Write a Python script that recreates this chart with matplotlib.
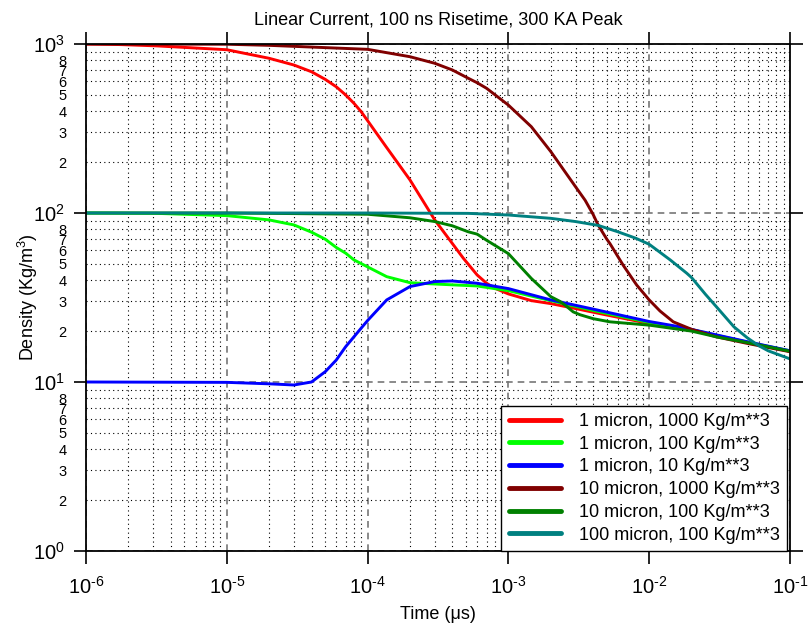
import numpy as np
import matplotlib
matplotlib.use("Agg")
import matplotlib.pyplot as plt
from matplotlib.ticker import LogLocator, FuncFormatter, NullFormatter

plt.rcParams['font.family'] = ['Liberation Sans', 'DejaVu Sans']
plt.rcParams['mathtext.fontset'] = 'custom'
plt.rcParams['mathtext.rm'] = 'Liberation Sans'
plt.rcParams['mathtext.it'] = 'Liberation Sans:italic'
plt.rcParams['axes.unicode_minus'] = False

# curves: log10 of time (us) and density (Kg/m^3)
t_red = [-6, -5.75, -5.5, -5.0, -4.699, -4.523, -4.398, -4.301, -4.222, -4.155, -4.097, -4.046,
         -4.0, -3.869, -3.699, -3.523, -3.398, -3.32, -3.222, -3.155, -3.097, -3.0, -2.837,
         -2.699, -2.523, -2.301, -2.0, -1.699, -1.301, -1.0]
rho_red = [1000, 992, 975, 925, 823, 751, 685, 618, 558, 499, 446, 398,
           352, 247, 157, 91, 66, 54, 43, 38.4, 35.9, 33.2, 30.3,
           29.1, 27.2, 24.9, 22.2, 20.3, 17.1, 15.2]

t_lgreen = [-6, -5.5, -5.0, -4.699, -4.523, -4.398, -4.301, -4.222, -4.155, -4.097, -4.0,
            -3.864, -3.699, -3.523, -3.222, -3.0, -2.699, -2.398, -2.0, -1.699, -1.301, -1.0]
rho_lgreen = [100, 99.5, 96.5, 91, 85, 77, 70, 62.5, 57.8, 52.8, 48,
              42, 38.7, 38.0, 37, 34.7, 30.3, 26.5, 22.5, 20.4, 17.2, 15.3]

t_blue = [-6, -5.0, -4.693, -4.523, -4.398, -4.301, -4.222, -4.155, -4.097, -4.046, -4.0,
          -3.864, -3.699, -3.523, -3.398, -3.222, -3.0, -2.699, -2.398, -2.0, -1.78, -1.523,
          -1.301, -1.0]
rho_blue = [10, 9.95, 9.75, 9.6, 10.0, 11.5, 13.5, 16.2, 18.5, 20.8, 23.1,
            30.6, 36.7, 39.3, 39.6, 38.4, 35.7, 30.6, 27.0, 22.8, 21.2, 19.0,
            17.3, 15.3]

t_dred = [-6, -5, -4.7, -4.0, -3.699, -3.523, -3.398, -3.285, -3.222, -3.155, -3.0, -2.837,
          -2.699, -2.523, -2.455, -2.398, -2.363, -2.301, -2.279, -2.184, -2.089, -2.0, -1.923,
          -1.829, -1.699, -1.523, -1.301, -1.0]
rho_dred = [1000, 997, 982, 930, 841, 769, 702, 627, 590, 547, 435, 324,
            231, 143, 119, 98, 85, 70, 66, 49, 37.5, 30.6, 26.3,
            22.7, 20.5, 18.5, 16.9, 15.1]

t_dgreen = [-6, -5, -4.0, -3.699, -3.523, -3.398, -3.285, -3.222, -3.155, -3.0, -2.837, -2.699,
            -2.634, -2.586, -2.54, -2.491, -2.398, -2.279, -2.0, -1.699, -1.523, -1.301, -1.0]
rho_dgreen = [100, 100, 98.3, 93.7, 89, 84, 77.4, 75, 69, 57.5, 41, 32,
              30, 28, 26, 25, 23.7, 22.7, 21.7, 20, 18.5, 17.1, 15.2]

t_teal = [-6, -4, -3.285, -3.0, -2.699, -2.523, -2.363, -2.222, -2.097, -2.0, -1.851, -1.733,
          -1.699, -1.6, -1.523, -1.398, -1.301, -1.222, -1.155, -1.0]
rho_teal = [100, 100, 99.5, 97.3, 93, 89, 84.5, 77.4, 71, 65.3, 52.8, 44,
            41.5, 33, 27.9, 21.2, 18.2, 16.4, 15.3, 13.7]

labels = ['1 micron, 1000 Kg/m**3', '1 micron, 100 Kg/m**3', '1 micron, 10 Kg/m**3',
          '10 micron, 1000 Kg/m**3', '10 micron, 100 Kg/m**3', '100 micron, 100 Kg/m**3']
colors = ['#ff0000', '#00ff00', '#0000ff', '#800000', '#008000', '#008080']

series = [(t_red, rho_red), (t_lgreen, rho_lgreen), (t_blue, rho_blue),
          (t_dred, rho_dred), (t_dgreen, rho_dgreen), (t_teal, rho_teal)]

fig = plt.figure(figsize=(8.08, 6.35), dpi=100)
ax = fig.add_axes([0.1064, 0.1323, 0.8713, 0.7984])

for (t, rho), lab, c in zip(series, labels, colors):
    ax.plot(10.0 ** np.array(t), rho, color=c, lw=2.1, label=lab,
            solid_joinstyle='round', solid_capstyle='round')

ax.set_xscale('log')
ax.set_yscale('log')
ax.set_xlim(1e-6, 1e-1)
ax.set_ylim(1, 1000)

ax.xaxis.set_major_locator(LogLocator(base=10, numticks=10))
ax.xaxis.set_minor_locator(LogLocator(base=10, subs=np.arange(2, 10), numticks=20))
ax.xaxis.set_minor_formatter(NullFormatter())
ax.yaxis.set_major_locator(LogLocator(base=10, numticks=10))
ax.yaxis.set_minor_locator(LogLocator(base=10, subs=np.arange(2, 10), numticks=20))


def major_lab(v, pos):
    e = int(round(np.log10(v)))
    s = str(e).replace('-', '\u2010')
    return '$10^{' + s + '}$'


def minor_lab(v, pos):
    m = int(round(v / 10 ** np.floor(np.log10(v) + 1e-9)))
    return '' if m == 9 else str(m)


ax.xaxis.set_major_formatter(FuncFormatter(major_lab))
ax.yaxis.set_major_formatter(FuncFormatter(major_lab))
ax.yaxis.set_minor_formatter(FuncFormatter(minor_lab))

ax.grid(True, which='major', ls=(0, (4, 3)), color='#777777', lw=1.2)
ax.grid(True, which='minor', ls=(0, (1, 3)), color='black', lw=0.8)

ax.tick_params(which='major', direction='out', length=9, width=1.2,
               top=True, right=True, labelsize=14.5, pad=6)
ax.tick_params(axis='x', which='major', pad=9)
ax.tick_params(which='minor', length=0, labelsize=10.5, pad=14)
for s in ax.spines.values():
    s.set_linewidth(1.3)

ax.set_title('Linear Current, 100 ns Risetime, 300 KA Peak', fontsize=13, pad=14)
ax.set_xlabel('Time (\u03bcs)', fontsize=13, labelpad=6)
ax.set_ylabel('Density (Kg/m$^3$)', fontsize=13, labelpad=-5)

leg = ax.legend(loc='lower right', bbox_to_anchor=(0.996, 0.0), fontsize=13, borderaxespad=0,
                fancybox=False, framealpha=1, edgecolor='black', handlelength=2.9,
                handletextpad=1.0, labelspacing=0.32, borderpad=0.4)
leg.get_frame().set_linewidth(1)
for ln in leg.get_lines():
    ln.set_linewidth(3.5)

fig.savefig('out.png', dpi=100)
